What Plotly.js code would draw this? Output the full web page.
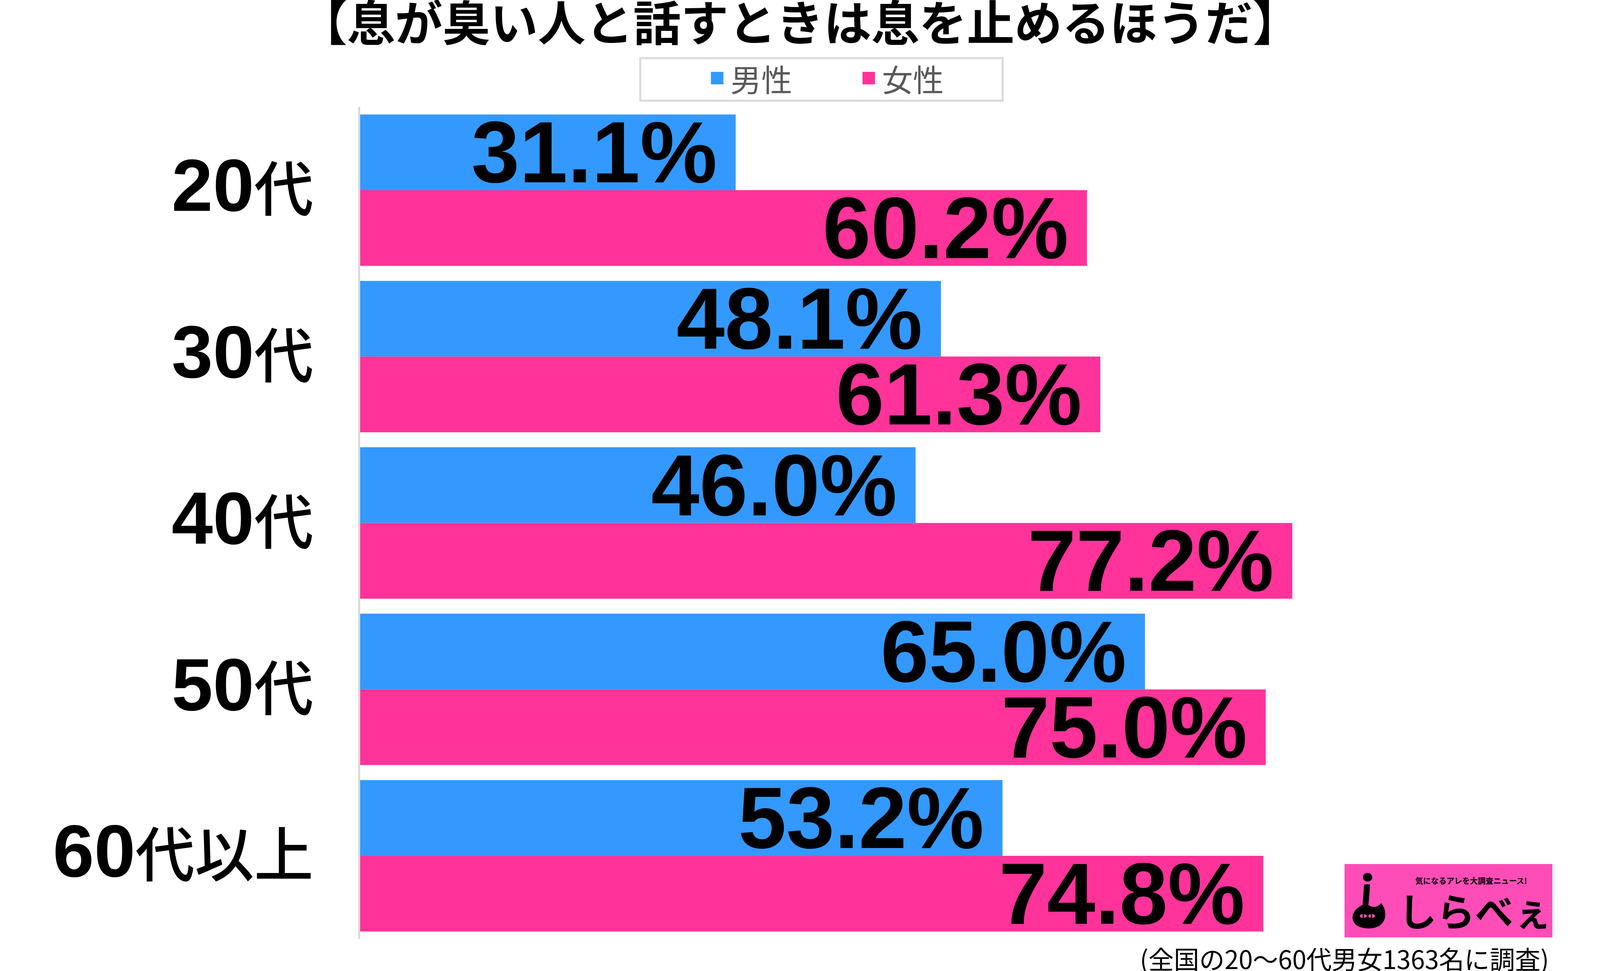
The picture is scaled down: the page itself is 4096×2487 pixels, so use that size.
<!DOCTYPE html>
<html><head><meta charset="utf-8">
<script src="https://cdn.plot.ly/plotly-3.0.1.min.js"></script>
<style>html,body{margin:0;padding:0;background:#fff;overflow:hidden;} #chart{width:4096px;height:2487px;}</style>
</head><body><div id="chart"></div>
<script>
// ---- data ----
const categories = ['20代', '30代', '40代', '50代', '60代以上'];
const seriesNames = ['男性', '女性'];
const maleValues = [31.1, 48.1, 46.0, 65.0, 53.2];
const femaleValues = [60.2, 61.3, 77.2, 75.0, 74.8];
const seriesColors = ['#3399ff', '#ff3399'];
const titleText = '【息が臭い人と話すときは息を止めるほうだ】';
const noteText = '(全国の20〜60代男女1363名に調査)';
const logoTagline = '気になるアレを大調査ニュース!';
const logoName = 'しらべぇ';

// ---- layout geometry (pixels) ----
const W = 4096, H = 2487;
const M = {l: 922, r: 83, t: 274, b: 82};
const PW = W - M.l - M.r, PH = H - M.t - M.b;
const fx = p => (p - M.l) / PW;
const fy = p => (H - M.b - p) / PH;
function rect(x0, y0, x1, y1, fill, lineColor, lineWidth) {
  return {type: 'rect', xref: 'paper', yref: 'paper', layer: 'above',
    x0: fx(x0), x1: fx(x1), y0: fy(y1), y1: fy(y0),
    fillcolor: fill, line: {color: lineColor || fill, width: lineWidth || 0}};
}
function ellipse(x0, y0, x1, y1, fill) {
  return {type: 'circle', xref: 'paper', yref: 'paper', layer: 'above',
    x0: fx(x0), x1: fx(x1), y0: fy(y1), y1: fy(y0),
    fillcolor: fill, line: {width: 0}};
}
function pathShape(cmds, fill) {
  const d = cmds.map(c => c[0] + (c.length > 1 ? ' ' +
      c.slice(1).map((v, k) => (k % 2 === 0 ? fx(v) : fy(v))).reduce((s, v, k) => s + (k % 2 === 0 ? (k ? ' ' : '') + v : ',' + v), '') : '')).join(' ');
  return {type: 'path', xref: 'paper', yref: 'paper', layer: 'above', path: d,
    fillcolor: fill, line: {width: 0}};
}
function label(x, y, text, size, color, xanchor, weight, family) {
  return {xref: 'paper', yref: 'paper', x: fx(x), y: fy(y), text: text,
    showarrow: false, xanchor: xanchor || 'left', yanchor: 'middle',
    font: {family: family || 'Noto Sans CJK JP', size: size, color: color, weight: weight || 400}};
}

const valueSets = [maleValues, femaleValues];
const traces = seriesNames.map((name, i) => ({
  type: 'bar', orientation: 'h', name: name,
  y: categories, x: valueSets[i],
  marker: {color: seriesColors[i], line: {width: 0}},
  text: valueSets[i].map(v => v.toFixed(1) + '%\u2009'),
  textposition: 'inside', insidetextanchor: 'end', textangle: 0,
  constraintext: 'none', cliponaxis: false,
  textfont: {family: 'Liberation Sans, Arial, sans-serif', size: 222, color: '#000000', weight: 700},
  hoverinfo: 'skip', showlegend: false
}));

// tick labels: digits drawn larger in a Latin face, as in the original
const tickText = categories.map(c => c.replace(/(\d+)/,
  '<span style="font-family:\'Liberation Sans\', Arial;font-size:190px;font-weight:700">$1</span>'));

// legend (drawn box)
const shapes = [rect(1639, 149, 2567, 258, '#ffffff', '#d9d9d9', 5)];
const annotations = [];
const legendSquareX = [1820, 2208];
const legendTextX = [1868, 2256];
seriesNames.forEach((n, i) => {
  shapes.push(rect(legendSquareX[i], 184, legendSquareX[i] + 32, 216, seriesColors[i]));
  annotations.push(label(legendTextX[i], 201, n, 79, '#595959', 'left'));
});

// footnote
annotations.push(label(3968, 2454, noteText, 65, '#000000', 'right'));

// logo
const logoPink = '#ff4db8';
shapes.push(rect(3442, 2213, 3974, 2401, logoPink));
shapes.push(ellipse(3489, 2236, 3513, 2258, '#000000'));
shapes.push(pathShape([
  ['M', 3492, 2265], ['L', 3507, 2265], ['Q', 3506, 2295, 3503, 2318],
  ['Q', 3522, 2330, 3536, 2313],
  ['C', 3554, 2335, 3552, 2378, 3503, 2378],
  ['C', 3454, 2378, 3450, 2335, 3488, 2318],
  ['Q', 3490, 2295, 3492, 2265], ['Z']], '#000000'));
shapes.push(ellipse(3481, 2341, 3499, 2351, logoPink));
shapes.push(ellipse(3503, 2341, 3520, 2351, logoPink));
shapes.push(ellipse(3488, 2341, 3492, 2351, '#000000'));
shapes.push(ellipse(3509, 2341, 3513, 2351, '#000000'));
annotations.push(label(3766, 2255, logoTagline, 20, '#000000', 'center', 700));
annotations.push(label(3776, 2329, logoName, 98, '#000000', 'center', 700));

const layout = {
  width: W, height: H,
  margin: M,
  paper_bgcolor: '#ffffff', plot_bgcolor: '#ffffff',
  title: {text: titleText, x: 0.5, xref: 'container', xanchor: 'center',
    y: 1 - 61 / H, yref: 'container', yanchor: 'middle',
    font: {family: 'Noto Sans CJK JP', size: 122, color: '#000000', weight: 700}},
  barmode: 'group', bargap: 0.09, bargroupgap: 0,
  showlegend: false,
  xaxis: {range: [0, 100], showgrid: false, zeroline: false, showline: false,
    showticklabels: false, ticks: '', fixedrange: true},
  yaxis: {type: 'category', autorange: 'reversed', showgrid: false, zeroline: false,
    showline: true, linecolor: '#d9d9d9', linewidth: 5, ticks: '',
    tickmode: 'array', tickvals: categories, ticktext: tickText,
    ticklabelstandoff: 84,
    tickfont: {family: 'Noto Sans CJK JP', size: 152, color: '#000000', weight: 500}},
  shapes: shapes,
  annotations: annotations
};

Plotly.newPlot('chart', traces, layout, {displayModeBar: false, staticPlot: true});
</script>
</body></html>
